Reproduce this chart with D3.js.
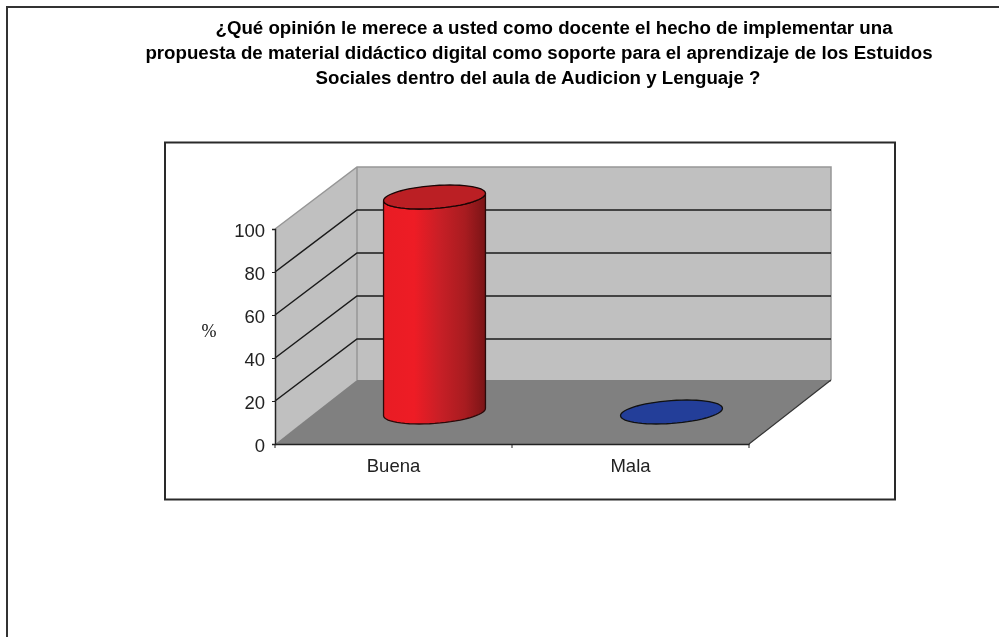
<!DOCTYPE html>
<html>
<head>
<meta charset="utf-8">
<script src="https://cdn.jsdelivr.net/npm/d3@7"></script>
<style>
  html, body { margin: 0; padding: 0; background: #fff; }
  text { font-family: "Liberation Sans", Arial, sans-serif; fill: #111; }
  svg { filter: blur(0.4px); }
</style>
</head>
<body>
<div id="chart"></div>
<script>
const categories = ['Buena', 'Mala'];
const values = [100, 0];
const yTicks = [0, 20, 40, 60, 80, 100];
const titleLines = [
  '¿Qué opinión le merece a usted como docente el hecho de implementar una',
  'propuesta de material didáctico digital como soporte para el aprendizaje de los Estuidos',
  'Sociales dentro del aula de Audicion y Lenguaje ?'
];
const yLabel = '%';

const width = 999, height = 637;
const svg = d3.select('#chart').append('svg')
  .attr('width', width).attr('height', height)
  .style('display', 'block');

// front plane scales, depth is an oblique offset
const x = d3.scaleBand().domain(categories).range([275, 749]);
const y = d3.scaleLinear().domain([0, 100]).range([444, 229]);
const depth = { x: 82, y: -62 };
const floorLift = 2;   // floor back edge sits a little above the wall's zero line
const centerRise = 32; // floor height of the cylinder centres
const gapScale = 0.82; // cylinder width vs band
const titleX = [554, 539, 538];

// gradient for the cylinder side
const defs = svg.append('defs');
const grad = defs.append('linearGradient').attr('id', 'side');
[[0, '#e81c24'], [0.3, '#ee1c25'], [0.55, '#c81f26'], [0.8, '#a81c20'], [1, '#7a1416']].forEach(s => {
  grad.append('stop').attr('offset', s[0]).attr('stop-color', s[1]);
});

// outer frame, runs off the page right and bottom
svg.append('path')
  .attr('d', `M7,${height} V7 H${width}`)
  .attr('fill', 'none').attr('stroke', '#333').attr('stroke-width', 2);

// chart frame
svg.append('rect')
  .attr('x', 165).attr('y', 142.5).attr('width', 730).attr('height', 357)
  .attr('fill', '#fff').attr('stroke', '#2a2a2a').attr('stroke-width', 2);

// title
svg.append('g').selectAll('text')
  .data(titleLines)
  .join('text')
  .attr('x', (d, i) => titleX[i])
  .attr('y', (d, i) => 34 + i * 25)
  .attr('text-anchor', 'middle')
  .style('font-size', '18.7px')
  .style('font-weight', 'bold')
  .style('fill', '#000')
  .text(d => d);

const x0 = x.range()[0], x1 = x.range()[1];
const y0 = y(0), yTop = y(100);

// side wall
svg.append('path')
  .attr('d', `M${x0},${y0} L${x0 + depth.x},${y0 + depth.y} V${yTop + depth.y} L${x0},${yTop} Z`)
  .attr('fill', '#c0c0c0');

// back wall
svg.append('rect')
  .attr('x', x0 + depth.x).attr('y', yTop + depth.y)
  .attr('width', x1 - x0).attr('height', y0 - yTop)
  .attr('fill', '#c0c0c0');

// floor
svg.append('path')
  .attr('d', `M${x0},${y0} L${x0 + depth.x},${y0 + depth.y - floorLift} H${x1 + depth.x} L${x1},${y0} Z`)
  .attr('fill', '#808080');

// wall edges
svg.append('path')
  .attr('d', `M${x0},${yTop} L${x0 + depth.x},${yTop + depth.y} H${x1 + depth.x} V${y0 + depth.y - floorLift}
              M${x0 + depth.x},${yTop + depth.y} V${y0 + depth.y - floorLift}`)
  .attr('fill', 'none').attr('stroke', '#969696').attr('stroke-width', 1.5);

// gridlines, side wall then back wall
svg.append('g').selectAll('path')
  .data(yTicks.filter(t => t > 0 && t < 100))
  .join('path')
  .attr('d', t => `M${x0},${y(t)} L${x0 + depth.x},${y(t) + depth.y} H${x1 + depth.x}`)
  .attr('fill', 'none').attr('stroke', '#1a1a1a').attr('stroke-width', 1.5);

// floor right edge
svg.append('path')
  .attr('d', `M${x1},${y0} L${x1 + depth.x},${y0 + depth.y - floorLift}`)
  .attr('stroke', '#333').attr('stroke-width', 1.2);

// axes
const yAxis = d3.axisLeft(y).tickValues(yTicks).tickSize(3).tickPadding(7);
const gy = svg.append('g').attr('transform', `translate(${x0},0)`).call(yAxis);
const xAxis = d3.axisBottom(x).tickSize(0).tickPadding(15);
const gx = svg.append('g').attr('transform', `translate(0,${y0})`).call(xAxis);
[gy, gx].forEach(g => {
  g.selectAll('path.domain').attr('stroke', '#222').attr('stroke-width', 1.5);
  g.selectAll('line').attr('stroke', '#222');
  g.selectAll('text').style('fill', '#222').style('font-size', '18.5px')
    .style('font-family', '"Liberation Sans", Arial, sans-serif');
});
gy.selectAll('text').attr('dy', '0.38em');
// category separators sit on the band edges
gx.selectAll('line.sep')
  .data([x0, x(categories[1]), x1])
  .join('line')
  .attr('class', 'sep')
  .attr('x1', d => d).attr('x2', d => d)
  .attr('y1', 0).attr('y2', 4)
  .attr('stroke', '#222');

// y axis title
svg.append('text')
  .attr('x', 209).attr('y', 337)
  .attr('text-anchor', 'middle')
  .style('font-family', '"Liberation Serif", "Times New Roman", serif')
  .style('font-size', '18px')
  .text(yLabel);

// oblique circle on the floor plane
const capShape = (cx, cy) => {
  const halfW = x.bandwidth() * gapScale / 2 * 0.5;
  const sk = 0.375;
  return d3.range(0, 360, 6).map(a => {
    const t = a * Math.PI / 180;
    return [cx + halfW * Math.cos(t) + depth.x / 2 * sk * Math.sin(t),
            cy - centerRise * sk * Math.sin(t)];
  });
};
const line = d3.line().curve(d3.curveLinearClosed);

const barColors = { side: 'url(#side)', top: '#bb1f24' };
const barsG = svg.append('g');

categories.forEach((c, i) => {
  const cx = x(c) + x.bandwidth() / 2 + depth.x / 2;
  const base = y0 - centerRise;
  const topY = y(values[i]) - centerRise;
  const bottom = capShape(cx, base);
  const cap = capShape(cx, topY);

  if (values[i] > 0) {
    // body: front half of the base, extruded up to the cap
    const ext = d3.extent(bottom, p => p[0]);
    const iL = bottom.findIndex(p => p[0] === ext[0]);
    const iR = bottom.findIndex(p => p[0] === ext[1]);
    const front = [];
    for (let k = iL; ; k = (k + 1) % bottom.length) {
      front.push(bottom[k]);
      if (k === iR) break;
    }
    const body = front.concat(front.slice().reverse().map(p => [p[0], p[1] - (base - topY)]));
    barsG.append('path').attr('d', line(body))
      .attr('fill', barColors.side).attr('stroke', '#2a0a0a').attr('stroke-width', 1.3);
    barsG.append('path').attr('d', line(cap))
      .attr('fill', barColors.top).attr('stroke', '#1a0505').attr('stroke-width', 1.3);
  } else {
    barsG.append('path').attr('d', line(cap))
      .attr('fill', '#233e99').attr('stroke', '#111').attr('stroke-width', 1.3);
  }
});
</script>
</body>
</html>
